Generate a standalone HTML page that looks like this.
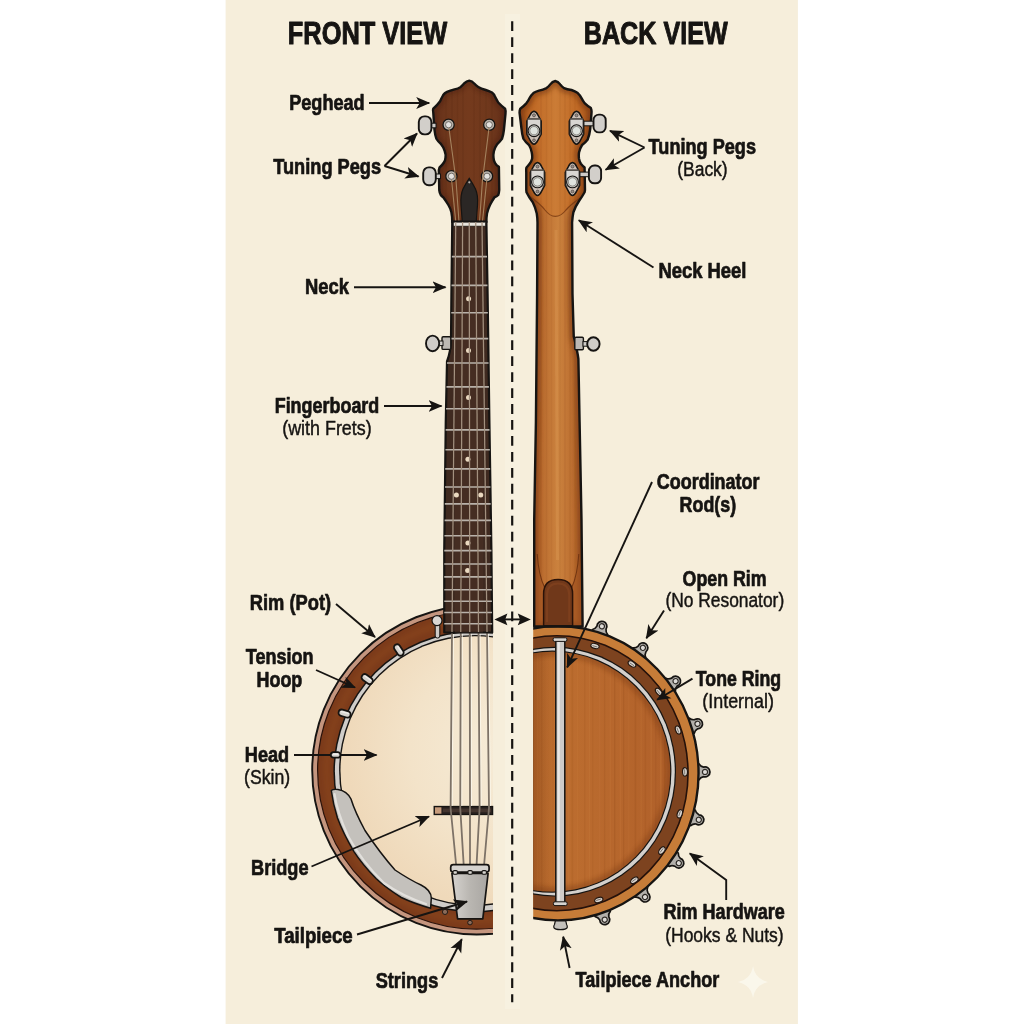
<!DOCTYPE html>
<html lang="en">
<head>
<meta charset="utf-8">
<title>Banjo anatomy - front and back view</title>
<style>
html,body{margin:0;padding:0;background:#ffffff;}
body{width:1024px;height:1024px;overflow:hidden;}
svg{display:block;}
svg text{font-family:"Liberation Sans",sans-serif;}
</style>
</head>
<body>
<svg width="1024" height="1024" viewBox="0 0 1024 1024">
<defs>
<linearGradient id="gFrontHead" x1="0" x2="1" y1="0" y2="0">
 <stop offset="0" stop-color="#66311a"/><stop offset="0.25" stop-color="#70381c"/><stop offset="0.5" stop-color="#743a1d"/><stop offset="0.75" stop-color="#70381c"/><stop offset="1" stop-color="#66311a"/>
</linearGradient>
<linearGradient id="gBackWood" x1="0" x2="1" y1="0" y2="0">
 <stop offset="0" stop-color="#a3531c"/><stop offset="0.2" stop-color="#c06a26"/><stop offset="0.5" stop-color="#cb7c36"/><stop offset="0.8" stop-color="#c06a26"/><stop offset="1" stop-color="#a3531c"/>
</linearGradient>
<linearGradient id="gBackNeck" x1="0" x2="1" y1="0" y2="0">
 <stop offset="0" stop-color="#8c4418"/><stop offset="0.18" stop-color="#b5652a"/><stop offset="0.5" stop-color="#cb823e"/><stop offset="0.82" stop-color="#b5652a"/><stop offset="1" stop-color="#8c4418"/>
</linearGradient>
<linearGradient id="gBackPot" x1="0" x2="1" y1="0" y2="0">
 <stop offset="0" stop-color="#b4642a"/><stop offset="0.5" stop-color="#be6f30"/><stop offset="1" stop-color="#b0602a"/>
</linearGradient>
<radialGradient id="gSkin" cx="0.62" cy="0.42" r="0.6">
 <stop offset="0" stop-color="#f6ecd8"/><stop offset="0.6" stop-color="#f3e3c9"/><stop offset="1" stop-color="#efd9ba"/>
</radialGradient>
<linearGradient id="gSilver" x1="0" x2="0" y1="0" y2="1">
 <stop offset="0" stop-color="#dcd9d4"/><stop offset="1" stop-color="#b4b0ab"/>
</linearGradient>
<linearGradient id="gTail" x1="0" x2="1" y1="0" y2="0">
 <stop offset="0" stop-color="#d6d3cf"/><stop offset="0.5" stop-color="#b9b6b1"/><stop offset="1" stop-color="#a9a6a2"/>
</linearGradient>
<filter id="blur2" x="-20%" y="-20%" width="140%" height="140%"><feGaussianBlur stdDeviation="2.2"/></filter>
<linearGradient id="gLeftShade" x1="0" x2="1" y1="0" y2="0"><stop offset="0" stop-color="#7a3a12" stop-opacity="0.42"/><stop offset="1" stop-color="#7a3a12" stop-opacity="0"/></linearGradient>
<clipPath id="clipFront"><rect x="226" y="560" width="267" height="400"/></clipPath>
<clipPath id="clipBack"><rect x="533.2" y="560" width="270" height="400"/></clipPath>
<marker id="ah" markerUnits="userSpaceOnUse" markerWidth="16" markerHeight="14" refX="13" refY="7" orient="auto">
 <path d="M0,1 L14,7 L0,13 L3.5,7 Z" fill="#161412"/>
</marker>
</defs>
<rect x="0" y="0" width="1024" height="1024" fill="#ffffff"/>
<rect x="225.6" y="0" width="572.3" height="1024" fill="#f6eedb"/>
<rect x="505" y="14" width="15" height="995" fill="#f7f1e0"/>
<line x1="512.2" y1="21.3" x2="512.2" y2="1002.3" stroke="#161412" stroke-width="2.2" stroke-dasharray="9.8 6.15"/>
<g clip-path="url(#clipFront)">
<circle cx="476.6" cy="770.1" r="164.4" fill="#c4957e" stroke="#161412" stroke-width="1.9"/>
<circle cx="476.6" cy="770.1" r="159.0" fill="#7c3b1b" stroke="#2a120a" stroke-width="1.2"/>
<circle cx="476.6" cy="770.1" r="150" fill="none" stroke="#96501f" stroke-width="7" opacity="0.3" filter="url(#blur2)"/>
<circle cx="474.2" cy="771.6" r="140.8" fill="#161412"/>
<circle cx="474.2" cy="771.6" r="139.3" fill="#d0cdc9"/>
<circle cx="474.6" cy="770.4" r="135.5" fill="#161412"/>
<circle cx="474.6" cy="770.4" r="134.1" fill="url(#gSkin)"/>
</g>
<g transform="translate(398.8,650.0) rotate(56)"><rect x="-6.2" y="-3.2" width="12.4" height="6.4" rx="3.2" fill="#d6d3ce" stroke="#161412" stroke-width="1.8"/><rect x="-4.2" y="-1.8" width="8.4" height="1.3" rx="0.6" fill="#f0eeeb"/></g>
<g transform="translate(367.2,679.1) rotate(36)"><rect x="-6.2" y="-3.2" width="12.4" height="6.4" rx="3.2" fill="#d6d3ce" stroke="#161412" stroke-width="1.8"/><rect x="-4.2" y="-1.8" width="8.4" height="1.3" rx="0.6" fill="#f0eeeb"/></g>
<g transform="translate(344.6,713.6) rotate(16)"><rect x="-6.2" y="-3.2" width="12.4" height="6.4" rx="3.2" fill="#d6d3ce" stroke="#161412" stroke-width="1.8"/><rect x="-4.2" y="-1.8" width="8.4" height="1.3" rx="0.6" fill="#f0eeeb"/></g>
<path d="M331.3,790.5 Q333,789 338,789.5 Q347,791 351,799 Q355,812 365,830.5 Q380,853 395,870 Q410,880 421,885 Q431,890 431.3,898 L430.6,908.2 Q414,903.5 401.3,897.5 Q386,888 376.3,878.8 Q362,864 353.8,851.3 Q343,833 337.5,818 Q333,804 331.3,790.5 Z" fill="#c4c1bc" stroke="#161412" stroke-width="1.5" stroke-linejoin="round"/>
<path d="M334.5,794 Q337,812 348,836 Q362,862 384,883 Q402,896 426,904" fill="none" stroke="#e2e0dc" stroke-width="2.2" stroke-linecap="round"/>
<rect x="435.2" y="624" width="4.6" height="14" rx="2" fill="#cfccc8" stroke="#161412" stroke-width="1"/>
<circle cx="437" cy="620.6" r="5" fill="#d9d6d2" stroke="#161412" stroke-width="1.2"/>
<rect x="434.2" y="806.5" width="58.4" height="8" fill="#2a2220" stroke="#161412" stroke-width="1.3"/>
<rect x="435" y="807.3" width="6.4" height="6.4" fill="#c79c7c"/>
<rect x="443" y="808.6" width="48" height="3.6" fill="#4a3a32" opacity="0.8"/>
<polyline points="453.5,634 452.1,806" fill="none" stroke="#fbf7ec" stroke-width="1.1" opacity="0.8"/>
<polyline points="452.0,630 450.6,808 456.25,866" fill="none" stroke="#7d7267" stroke-width="1.8"/>
<polyline points="462.25,634 461.75,806" fill="none" stroke="#fbf7ec" stroke-width="1.1" opacity="0.8"/>
<polyline points="460.75,630 460.25,808 463.75,866" fill="none" stroke="#7d7267" stroke-width="1.8"/>
<polyline points="471.25,634 471.5,806" fill="none" stroke="#fbf7ec" stroke-width="1.1" opacity="0.8"/>
<polyline points="469.75,630 470.0,808 470.0,866" fill="none" stroke="#7d7267" stroke-width="1.8"/>
<polyline points="480.0,634 481.1,806" fill="none" stroke="#fbf7ec" stroke-width="1.1" opacity="0.8"/>
<polyline points="478.5,630 479.6,808 476.5,866" fill="none" stroke="#7d7267" stroke-width="1.8"/>
<polyline points="488.5,634 490.5,806" fill="none" stroke="#fbf7ec" stroke-width="1.1" opacity="0.8"/>
<polyline points="487.0,630 489.0,808 484.0,866" fill="none" stroke="#7d7267" stroke-width="1.8"/>
<clipPath id="clipPH"><path d="M469.25,80.6 Q466.5,81 464.5,83.1 Q462.5,85.5 460.75,86.9 Q458,88.6 454.5,89.4 Q450,90.6 447,91.9 Q444.5,93 443.25,95 Q441.5,98 440.1,101.25 Q437,105.5 433.25,108.75 Q432.6,110.5 433.25,112.5 L434.5,130 Q435,135 436.4,138.75 Q438,141.5 440.75,143.75 Q443.5,147 444.75,151.25 Q446,154.5 445.5,157.5 Q445.3,160.5 443.9,162.5 Q442,165.5 439.5,167.5 Q438.7,169.5 438.9,172.5 L439.25,190 Q439.6,193 440.75,195 Q441.8,196.5 443.25,197.25 Q446,201 448.25,204.75 Q450.5,208.5 451.4,212.25 Q452.2,216 452.25,222 L486.4,222 Q486.4,217 487,213.5 Q488,209 490.1,204.75 Q492,201 494.5,197.25 Q496.8,196.5 498.25,195 Q499,193 499.25,190 L498.9,166.9 Q496.5,165.5 495.1,163.1 Q493.6,160.5 493.5,157.5 Q493.2,154.5 493.9,151.25 Q495,147 497,144.4 Q500,141.5 502,138.75 Q503.3,135 503.9,130 L505.5,113.75 Q505.8,110.5 505.1,108.75 Q501,105.5 498.25,102.5 Q496.5,99.5 495.1,96.9 Q494,94 492,92.5 Q489,91 485.75,90 Q481,88.6 478.25,86.9 Q476,85.5 474.5,83.75 Q472,81 469.25,80.6 Z"/></clipPath>
<path d="M469.25,80.6 Q466.5,81 464.5,83.1 Q462.5,85.5 460.75,86.9 Q458,88.6 454.5,89.4 Q450,90.6 447,91.9 Q444.5,93 443.25,95 Q441.5,98 440.1,101.25 Q437,105.5 433.25,108.75 Q432.6,110.5 433.25,112.5 L434.5,130 Q435,135 436.4,138.75 Q438,141.5 440.75,143.75 Q443.5,147 444.75,151.25 Q446,154.5 445.5,157.5 Q445.3,160.5 443.9,162.5 Q442,165.5 439.5,167.5 Q438.7,169.5 438.9,172.5 L439.25,190 Q439.6,193 440.75,195 Q441.8,196.5 443.25,197.25 Q446,201 448.25,204.75 Q450.5,208.5 451.4,212.25 Q452.2,216 452.25,222 L486.4,222 Q486.4,217 487,213.5 Q488,209 490.1,204.75 Q492,201 494.5,197.25 Q496.8,196.5 498.25,195 Q499,193 499.25,190 L498.9,166.9 Q496.5,165.5 495.1,163.1 Q493.6,160.5 493.5,157.5 Q493.2,154.5 493.9,151.25 Q495,147 497,144.4 Q500,141.5 502,138.75 Q503.3,135 503.9,130 L505.5,113.75 Q505.8,110.5 505.1,108.75 Q501,105.5 498.25,102.5 Q496.5,99.5 495.1,96.9 Q494,94 492,92.5 Q489,91 485.75,90 Q481,88.6 478.25,86.9 Q476,85.5 474.5,83.75 Q472,81 469.25,80.6 Z" fill="url(#gFrontHead)"/>
<g clip-path="url(#clipPH)">
<line x1="446" y1="88" x2="446" y2="222" stroke="#3a1608" stroke-width="1.2" opacity="0.09"/>
<line x1="452" y1="88" x2="452" y2="222" stroke="#3a1608" stroke-width="1.2" opacity="0.1"/>
<line x1="457.5" y1="88" x2="457.5" y2="222" stroke="#3a1608" stroke-width="1.2" opacity="0.08"/>
<line x1="463" y1="88" x2="463" y2="222" stroke="#3a1608" stroke-width="1.2" opacity="0.1"/>
<line x1="474" y1="88" x2="474" y2="222" stroke="#3a1608" stroke-width="1.2" opacity="0.09"/>
<line x1="480" y1="88" x2="480" y2="222" stroke="#3a1608" stroke-width="1.2" opacity="0.1"/>
<line x1="486" y1="88" x2="486" y2="222" stroke="#3a1608" stroke-width="1.2" opacity="0.08"/>
<line x1="492" y1="88" x2="492" y2="222" stroke="#3a1608" stroke-width="1.2" opacity="0.09"/>
<path d="M469.25,80.6 Q466.5,81 464.5,83.1 Q462.5,85.5 460.75,86.9 Q458,88.6 454.5,89.4 Q450,90.6 447,91.9 Q444.5,93 443.25,95 Q441.5,98 440.1,101.25 Q437,105.5 433.25,108.75 Q432.6,110.5 433.25,112.5 L434.5,130 Q435,135 436.4,138.75 Q438,141.5 440.75,143.75 Q443.5,147 444.75,151.25 Q446,154.5 445.5,157.5 Q445.3,160.5 443.9,162.5 Q442,165.5 439.5,167.5 Q438.7,169.5 438.9,172.5 L439.25,190 Q439.6,193 440.75,195 Q441.8,196.5 443.25,197.25 Q446,201 448.25,204.75 Q450.5,208.5 451.4,212.25 Q452.2,216 452.25,222 L486.4,222 Q486.4,217 487,213.5 Q488,209 490.1,204.75 Q492,201 494.5,197.25 Q496.8,196.5 498.25,195 Q499,193 499.25,190 L498.9,166.9 Q496.5,165.5 495.1,163.1 Q493.6,160.5 493.5,157.5 Q493.2,154.5 493.9,151.25 Q495,147 497,144.4 Q500,141.5 502,138.75 Q503.3,135 503.9,130 L505.5,113.75 Q505.8,110.5 505.1,108.75 Q501,105.5 498.25,102.5 Q496.5,99.5 495.1,96.9 Q494,94 492,92.5 Q489,91 485.75,90 Q481,88.6 478.25,86.9 Q476,85.5 474.5,83.75 Q472,81 469.25,80.6 Z" fill="none" stroke="#3a1608" stroke-width="7" opacity="0.34" filter="url(#blur2)"/>
</g>
<path d="M469.25,80.6 Q466.5,81 464.5,83.1 Q462.5,85.5 460.75,86.9 Q458,88.6 454.5,89.4 Q450,90.6 447,91.9 Q444.5,93 443.25,95 Q441.5,98 440.1,101.25 Q437,105.5 433.25,108.75 Q432.6,110.5 433.25,112.5 L434.5,130 Q435,135 436.4,138.75 Q438,141.5 440.75,143.75 Q443.5,147 444.75,151.25 Q446,154.5 445.5,157.5 Q445.3,160.5 443.9,162.5 Q442,165.5 439.5,167.5 Q438.7,169.5 438.9,172.5 L439.25,190 Q439.6,193 440.75,195 Q441.8,196.5 443.25,197.25 Q446,201 448.25,204.75 Q450.5,208.5 451.4,212.25 Q452.2,216 452.25,222 L486.4,222 Q486.4,217 487,213.5 Q488,209 490.1,204.75 Q492,201 494.5,197.25 Q496.8,196.5 498.25,195 Q499,193 499.25,190 L498.9,166.9 Q496.5,165.5 495.1,163.1 Q493.6,160.5 493.5,157.5 Q493.2,154.5 493.9,151.25 Q495,147 497,144.4 Q500,141.5 502,138.75 Q503.3,135 503.9,130 L505.5,113.75 Q505.8,110.5 505.1,108.75 Q501,105.5 498.25,102.5 Q496.5,99.5 495.1,96.9 Q494,94 492,92.5 Q489,91 485.75,90 Q481,88.6 478.25,86.9 Q476,85.5 474.5,83.75 Q472,81 469.25,80.6 Z" fill="none" stroke="#161412" stroke-width="2.4" stroke-linejoin="round"/>
<rect x="430" y="123.2" width="6" height="4.6" fill="#cfccc8" stroke="#161412" stroke-width="1"/>
<rect x="418.8" y="116.4" width="12.6" height="18" rx="5.6" fill="#d2cfca" stroke="#161412" stroke-width="1.9"/>
<rect x="434.5" y="174" width="6" height="4.6" fill="#cfccc8" stroke="#161412" stroke-width="1"/>
<rect x="423.2" y="167.4" width="12.6" height="17.8" rx="5.6" fill="#d2cfca" stroke="#161412" stroke-width="1.9"/>
<path d="M469.25,178.3 Q466,183 463,189 Q460.3,195 461,205 L462.3,222 L476.2,222 L477.5,205 Q478.2,195 475.5,189 Q472.5,183 469.25,178.3 Z" fill="#2b2725" stroke="#161412" stroke-width="1.2"/>
<circle cx="469.3" cy="182.3" r="1.1" fill="#b8b4ae"/>
<circle cx="448.6" cy="124.75" r="5.6" fill="#b9b4ad" stroke="#161412" stroke-width="1.3"/>
<circle cx="448.6" cy="124.75" r="3.1" fill="#e4e2df" stroke="#5a554f" stroke-width="0.8"/>
<circle cx="489.25" cy="124.75" r="5.6" fill="#b9b4ad" stroke="#161412" stroke-width="1.3"/>
<circle cx="489.25" cy="124.75" r="3.1" fill="#e4e2df" stroke="#5a554f" stroke-width="0.8"/>
<circle cx="451.4" cy="176.25" r="5.6" fill="#b9b4ad" stroke="#161412" stroke-width="1.3"/>
<circle cx="451.4" cy="176.25" r="3.1" fill="#e4e2df" stroke="#5a554f" stroke-width="0.8"/>
<circle cx="487.0" cy="176.25" r="5.6" fill="#b9b4ad" stroke="#161412" stroke-width="1.3"/>
<circle cx="487.0" cy="176.25" r="3.1" fill="#e4e2df" stroke="#5a554f" stroke-width="0.8"/>
<polyline points="448.9,128 456,180 459,222" fill="none" stroke="#a5825e" stroke-width="1.1"/>
<polyline points="451.6,180 455.8,222" fill="none" stroke="#a5825e" stroke-width="1.1"/>
<polyline points="489,128 482.5,180 479.5,222" fill="none" stroke="#a5825e" stroke-width="1.1"/>
<polyline points="486.8,180 482.4,222" fill="none" stroke="#a5825e" stroke-width="1.1"/>
<path d="M452.25,221.5 L451.4,294 L451,340 Q450.6,352 447,361.5 L445.75,422 L444.25,550 L444.25,632.5 L492.2,632.5 L491.4,550 L489.4,422 L487.6,294 L486.4,221.5 Z" fill="#3f2a20" stroke="#161412" stroke-width="2.2" stroke-linejoin="round"/>
<clipPath id="clipFB"><path d="M452.25,221.5 L451.4,294 L451,340 Q450.6,352 447,361.5 L445.75,422 L444.25,550 L444.25,632.5 L492.2,632.5 L491.4,550 L489.4,422 L487.6,294 L486.4,221.5 Z"/></clipPath>
<g clip-path="url(#clipFB)">
<rect x="455" y="222" width="28" height="412" fill="#4a3024" opacity="0.55"/>
<line x1="440" y1="256.6" x2="496" y2="256.6" stroke="#b9b2aa" stroke-width="1.7"/>
<line x1="440" y1="285.4" x2="496" y2="285.4" stroke="#b9b2aa" stroke-width="1.7"/>
<line x1="440" y1="312.75" x2="496" y2="312.75" stroke="#b9b2aa" stroke-width="1.7"/>
<line x1="440" y1="338.6" x2="496" y2="338.6" stroke="#b9b2aa" stroke-width="1.7"/>
<line x1="440" y1="363" x2="496" y2="363" stroke="#b9b2aa" stroke-width="1.7"/>
<line x1="440" y1="386.9" x2="496" y2="386.9" stroke="#b9b2aa" stroke-width="1.7"/>
<line x1="440" y1="408.75" x2="496" y2="408.75" stroke="#b9b2aa" stroke-width="1.7"/>
<line x1="440" y1="429.9" x2="496" y2="429.9" stroke="#b9b2aa" stroke-width="1.7"/>
<line x1="440" y1="449.75" x2="496" y2="449.75" stroke="#b9b2aa" stroke-width="1.7"/>
<line x1="440" y1="468.9" x2="496" y2="468.9" stroke="#b9b2aa" stroke-width="1.7"/>
<line x1="440" y1="487" x2="496" y2="487" stroke="#b9b2aa" stroke-width="1.7"/>
<line x1="440" y1="503.9" x2="496" y2="503.9" stroke="#b9b2aa" stroke-width="1.7"/>
<line x1="440" y1="520.4" x2="496" y2="520.4" stroke="#b9b2aa" stroke-width="1.7"/>
<line x1="440" y1="535.75" x2="496" y2="535.75" stroke="#b9b2aa" stroke-width="1.7"/>
<line x1="440" y1="550.6" x2="496" y2="550.6" stroke="#b9b2aa" stroke-width="1.7"/>
<line x1="440" y1="564" x2="496" y2="564" stroke="#b9b2aa" stroke-width="1.7"/>
<line x1="440" y1="576.9" x2="496" y2="576.9" stroke="#b9b2aa" stroke-width="1.7"/>
<line x1="440" y1="589.75" x2="496" y2="589.75" stroke="#b9b2aa" stroke-width="1.7"/>
<line x1="440" y1="601.25" x2="496" y2="601.25" stroke="#b9b2aa" stroke-width="1.7"/>
<line x1="440" y1="612.5" x2="496" y2="612.5" stroke="#b9b2aa" stroke-width="1.7"/>
<line x1="440" y1="623.75" x2="496" y2="623.75" stroke="#b9b2aa" stroke-width="1.7"/>
</g>
<rect x="453.4" y="222.2" width="32" height="3.9" fill="#e9e5dd" stroke="#161412" stroke-width="0.6"/>
<circle cx="468.6" cy="298.75" r="2.5" fill="#ead9c0"/>
<circle cx="468.5" cy="350.5" r="2.5" fill="#ead9c0"/>
<circle cx="468.5" cy="397.5" r="2.5" fill="#ead9c0"/>
<circle cx="467.9" cy="459.25" r="2.5" fill="#ead9c0"/>
<circle cx="456.4" cy="495.1" r="2.5" fill="#ead9c0"/>
<circle cx="480.75" cy="495.1" r="2.5" fill="#ead9c0"/>
<circle cx="467.9" cy="543" r="2.5" fill="#ead9c0"/>
<circle cx="467.6" cy="570.6" r="2.5" fill="#ead9c0"/>
<line x1="455.75" y1="222" x2="452.0" y2="632" stroke="#a3917f" stroke-width="1.25"/>
<line x1="462.6" y1="222" x2="460.75" y2="632" stroke="#a3917f" stroke-width="1.25"/>
<line x1="469.25" y1="222" x2="469.75" y2="632" stroke="#a3917f" stroke-width="1.25"/>
<line x1="475.75" y1="222" x2="478.5" y2="632" stroke="#a3917f" stroke-width="1.25"/>
<line x1="482.0" y1="222" x2="487.0" y2="632" stroke="#a3917f" stroke-width="1.25"/>
<rect x="442" y="336.8" width="8.8" height="12.6" rx="1.2" fill="#bdb9b4" stroke="#161412" stroke-width="1.4"/>
<rect x="438" y="341" width="5" height="4.6" fill="#cfccc8" stroke="#161412" stroke-width="1"/>
<ellipse cx="432.6" cy="343.4" rx="6.6" ry="7.8" fill="#cfccc8" stroke="#161412" stroke-width="1.9"/>
<path d="M451.9,873.5 L488.1,873.5 L482.8,918.8 L457.6,918.8 Z" fill="url(#gTail)" stroke="#161412" stroke-width="1.7" stroke-linejoin="round"/>
<rect x="450.7" y="864.6" width="38.4" height="7.6" rx="2.6" fill="#d6d3cf" stroke="#161412" stroke-width="1.7"/>
<rect x="453.0" y="870.6" width="4.4" height="3.6" rx="1.2" fill="#d9d6d1" stroke="#161412" stroke-width="1.1"/>
<rect x="467.90000000000003" y="870.6" width="4.4" height="3.6" rx="1.2" fill="#d9d6d1" stroke="#161412" stroke-width="1.1"/>
<rect x="482.0" y="870.6" width="4.4" height="3.6" rx="1.2" fill="#d9d6d1" stroke="#161412" stroke-width="1.1"/>
<circle cx="445" cy="911.9" r="2.6" fill="#8a6a58" stroke="#161412" stroke-width="0.9"/>
<circle cx="470" cy="922.6" r="2.3" fill="#8a6a58" stroke="#161412" stroke-width="0.9"/>
<g transform="translate(601.9,626.3) rotate(18)"><path d="M-8.4,9 L-8,6 Q-5.4,4.6 -4.8,1.4 A5,5 0 1 1 4.8,1.4 Q5.4,4.6 8,6 L8.4,9 Z" fill="#b3b0ab" stroke="#161412" stroke-width="1.7" stroke-linejoin="round"/><circle cx="0" cy="0" r="2.6" fill="#dedbd7" stroke="#2c2824" stroke-width="1.2"/></g>
<g transform="translate(642.9,647.8) rotate(37)"><path d="M-8.4,9 L-8,6 Q-5.4,4.6 -4.8,1.4 A5,5 0 1 1 4.8,1.4 Q5.4,4.6 8,6 L8.4,9 Z" fill="#b3b0ab" stroke="#161412" stroke-width="1.7" stroke-linejoin="round"/><circle cx="0" cy="0" r="2.6" fill="#dedbd7" stroke="#2c2824" stroke-width="1.2"/></g>
<g transform="translate(675.6,681.2) rotate(54)"><path d="M-8.4,9 L-8,6 Q-5.4,4.6 -4.8,1.4 A5,5 0 1 1 4.8,1.4 Q5.4,4.6 8,6 L8.4,9 Z" fill="#b3b0ab" stroke="#161412" stroke-width="1.7" stroke-linejoin="round"/><circle cx="0" cy="0" r="2.6" fill="#dedbd7" stroke="#2c2824" stroke-width="1.2"/></g>
<g transform="translate(697.5,723.8) rotate(72)"><path d="M-8.4,9 L-8,6 Q-5.4,4.6 -4.8,1.4 A5,5 0 1 1 4.8,1.4 Q5.4,4.6 8,6 L8.4,9 Z" fill="#b3b0ab" stroke="#161412" stroke-width="1.7" stroke-linejoin="round"/><circle cx="0" cy="0" r="2.6" fill="#dedbd7" stroke="#2c2824" stroke-width="1.2"/></g>
<g transform="translate(705.0,771.9) rotate(90)"><path d="M-8.4,9 L-8,6 Q-5.4,4.6 -4.8,1.4 A5,5 0 1 1 4.8,1.4 Q5.4,4.6 8,6 L8.4,9 Z" fill="#b3b0ab" stroke="#161412" stroke-width="1.7" stroke-linejoin="round"/><circle cx="0" cy="0" r="2.6" fill="#dedbd7" stroke="#2c2824" stroke-width="1.2"/></g>
<g transform="translate(698.8,819.8) rotate(107)"><path d="M-8.4,9 L-8,6 Q-5.4,4.6 -4.8,1.4 A5,5 0 1 1 4.8,1.4 Q5.4,4.6 8,6 L8.4,9 Z" fill="#b3b0ab" stroke="#161412" stroke-width="1.7" stroke-linejoin="round"/><circle cx="0" cy="0" r="2.6" fill="#dedbd7" stroke="#2c2824" stroke-width="1.2"/></g>
<g transform="translate(678.8,863.1) rotate(124)"><path d="M-8.4,9 L-8,6 Q-5.4,4.6 -4.8,1.4 A5,5 0 1 1 4.8,1.4 Q5.4,4.6 8,6 L8.4,9 Z" fill="#b3b0ab" stroke="#161412" stroke-width="1.7" stroke-linejoin="round"/><circle cx="0" cy="0" r="2.6" fill="#dedbd7" stroke="#2c2824" stroke-width="1.2"/></g>
<g transform="translate(645.0,897.0) rotate(142)"><path d="M-8.4,9 L-8,6 Q-5.4,4.6 -4.8,1.4 A5,5 0 1 1 4.8,1.4 Q5.4,4.6 8,6 L8.4,9 Z" fill="#b3b0ab" stroke="#161412" stroke-width="1.7" stroke-linejoin="round"/><circle cx="0" cy="0" r="2.6" fill="#dedbd7" stroke="#2c2824" stroke-width="1.2"/></g>
<g transform="translate(604.7,919.7) rotate(161)"><path d="M-8.4,9 L-8,6 Q-5.4,4.6 -4.8,1.4 A5,5 0 1 1 4.8,1.4 Q5.4,4.6 8,6 L8.4,9 Z" fill="#b3b0ab" stroke="#161412" stroke-width="1.7" stroke-linejoin="round"/><circle cx="0" cy="0" r="2.6" fill="#dedbd7" stroke="#2c2824" stroke-width="1.2"/></g>
<g clip-path="url(#clipBack)">
<ellipse cx="557.96" cy="773.25" rx="140.6" ry="147.1" fill="#c67c38" stroke="#161412" stroke-width="2.4"/>
<ellipse cx="556.84" cy="773.18" rx="131.2" ry="137.5" fill="#7d431f" stroke="#25110a" stroke-width="1.6"/>
<ellipse cx="554.8" cy="771.7" rx="121.2" ry="124.9" fill="#161412"/>
<ellipse cx="554.8" cy="771.7" rx="120.0" ry="123.7" fill="#d3d0cc"/>
<ellipse cx="552.2" cy="771.7" rx="119.2" ry="121.1" fill="#161412"/>
<ellipse cx="552.2" cy="771.7" rx="118.0" ry="119.9" fill="url(#gBackPot)"/>
<clipPath id="clipInner"><ellipse cx="552.2" cy="771.7" rx="118.0" ry="119.9"/></clipPath><g clip-path="url(#clipInner)">
<line x1="537.5" y1="652" x2="537.5" y2="894" stroke="#d58a46" stroke-width="1.0" opacity="0.18"/>
<line x1="541.8" y1="652" x2="541.8" y2="894" stroke="#8a4516" stroke-width="1.3" opacity="0.14"/>
<line x1="546.9" y1="652" x2="546.9" y2="894" stroke="#d58a46" stroke-width="1.3" opacity="0.10"/>
<line x1="553.1" y1="652" x2="553.1" y2="894" stroke="#8a4516" stroke-width="0.9" opacity="0.11"/>
<line x1="558.2" y1="652" x2="558.2" y2="894" stroke="#d58a46" stroke-width="1.6" opacity="0.11"/>
<line x1="562.7" y1="652" x2="562.7" y2="894" stroke="#8a4516" stroke-width="1.4" opacity="0.21"/>
<line x1="568.8" y1="652" x2="568.8" y2="894" stroke="#d58a46" stroke-width="1.2" opacity="0.22"/>
<line x1="572.3" y1="652" x2="572.3" y2="894" stroke="#8a4516" stroke-width="1.7" opacity="0.13"/>
<line x1="577.7" y1="652" x2="577.7" y2="894" stroke="#d58a46" stroke-width="0.9" opacity="0.14"/>
<line x1="584.8" y1="652" x2="584.8" y2="894" stroke="#8a4516" stroke-width="1.0" opacity="0.17"/>
<line x1="589.4" y1="652" x2="589.4" y2="894" stroke="#d58a46" stroke-width="1.2" opacity="0.17"/>
<line x1="592.8" y1="652" x2="592.8" y2="894" stroke="#8a4516" stroke-width="0.9" opacity="0.12"/>
<line x1="599.7" y1="652" x2="599.7" y2="894" stroke="#d58a46" stroke-width="1.2" opacity="0.14"/>
<line x1="604.6" y1="652" x2="604.6" y2="894" stroke="#8a4516" stroke-width="1.3" opacity="0.14"/>
<line x1="610.3" y1="652" x2="610.3" y2="894" stroke="#d58a46" stroke-width="1.5" opacity="0.13"/>
<line x1="614.7" y1="652" x2="614.7" y2="894" stroke="#8a4516" stroke-width="1.3" opacity="0.21"/>
<line x1="620.3" y1="652" x2="620.3" y2="894" stroke="#d58a46" stroke-width="1.1" opacity="0.22"/>
<line x1="623.6" y1="652" x2="623.6" y2="894" stroke="#8a4516" stroke-width="1.2" opacity="0.19"/>
<line x1="628.8" y1="652" x2="628.8" y2="894" stroke="#d58a46" stroke-width="1.3" opacity="0.10"/>
<line x1="635.4" y1="652" x2="635.4" y2="894" stroke="#8a4516" stroke-width="1.6" opacity="0.17"/>
<line x1="641.1" y1="652" x2="641.1" y2="894" stroke="#d58a46" stroke-width="1.1" opacity="0.18"/>
<line x1="645.4" y1="652" x2="645.4" y2="894" stroke="#8a4516" stroke-width="1.4" opacity="0.15"/>
<line x1="651.2" y1="652" x2="651.2" y2="894" stroke="#d58a46" stroke-width="1.7" opacity="0.16"/>
<line x1="655.8" y1="652" x2="655.8" y2="894" stroke="#8a4516" stroke-width="0.9" opacity="0.18"/>
<line x1="660.8" y1="652" x2="660.8" y2="894" stroke="#d58a46" stroke-width="1.8" opacity="0.20"/>
<line x1="664.9" y1="652" x2="664.9" y2="894" stroke="#8a4516" stroke-width="1.2" opacity="0.18"/>
<rect x="533" y="650" width="22" height="246" fill="url(#gLeftShade)"/>
<ellipse cx="552.2" cy="771.7" rx="118.0" ry="119.9" fill="none" stroke="#6a2e0c" stroke-width="9" opacity="0.32" filter="url(#blur2)"/>
</g>
</g>
<rect x="555.8" y="640" width="9" height="264" fill="#cfccc8" stroke="#161412" stroke-width="1.5"/>
<rect x="557.6" y="641" width="2.2" height="262" fill="#e9e7e4"/>
<rect x="553.1" y="637.8" width="13.8" height="3.6" rx="1.4" fill="#d6d3cf" stroke="#161412" stroke-width="1"/>
<rect x="553.4" y="901.8" width="13.8" height="3.8" rx="1.6" fill="#d6d3cf" stroke="#161412" stroke-width="1"/>
<path d="M555.3,921 L565.8,921 L566.6,924.5 Q567.6,926 567.2,927.6 Q566,929.6 560.5,929.6 Q555,929.6 553.9,927.6 Q553.4,926 554.5,924.5 Z" fill="#c4c1bb" stroke="#161412" stroke-width="1.2"/>
<g transform="translate(595.0,646.0) rotate(16)"><ellipse cx="0" cy="0" rx="4.3" ry="2.5" fill="#d8d5d0" stroke="#24170f" stroke-width="1.2"/><line x1="-2.6" y1="0.3" x2="2.6" y2="0.3" stroke="#6a625a" stroke-width="0.8"/></g>
<g transform="translate(632.0,664.0) rotate(34)"><ellipse cx="0" cy="0" rx="4.3" ry="2.5" fill="#d8d5d0" stroke="#24170f" stroke-width="1.2"/><line x1="-2.6" y1="0.3" x2="2.6" y2="0.3" stroke="#6a625a" stroke-width="0.8"/></g>
<g transform="translate(658.8,691.9) rotate(51)"><ellipse cx="0" cy="0" rx="4.3" ry="2.5" fill="#d8d5d0" stroke="#24170f" stroke-width="1.2"/><line x1="-2.6" y1="0.3" x2="2.6" y2="0.3" stroke="#6a625a" stroke-width="0.8"/></g>
<g transform="translate(678.1,730.0) rotate(70)"><ellipse cx="0" cy="0" rx="4.3" ry="2.5" fill="#d8d5d0" stroke="#24170f" stroke-width="1.2"/><line x1="-2.6" y1="0.3" x2="2.6" y2="0.3" stroke="#6a625a" stroke-width="0.8"/></g>
<g transform="translate(685.0,771.9) rotate(89)"><ellipse cx="0" cy="0" rx="4.3" ry="2.5" fill="#d8d5d0" stroke="#24170f" stroke-width="1.2"/><line x1="-2.6" y1="0.3" x2="2.6" y2="0.3" stroke="#6a625a" stroke-width="0.8"/></g>
<g transform="translate(679.8,813.8) rotate(108)"><ellipse cx="0" cy="0" rx="4.3" ry="2.5" fill="#d8d5d0" stroke="#24170f" stroke-width="1.2"/><line x1="-2.6" y1="0.3" x2="2.6" y2="0.3" stroke="#6a625a" stroke-width="0.8"/></g>
<g transform="translate(661.9,850.6) rotate(127)"><ellipse cx="0" cy="0" rx="4.3" ry="2.5" fill="#d8d5d0" stroke="#24170f" stroke-width="1.2"/><line x1="-2.6" y1="0.3" x2="2.6" y2="0.3" stroke="#6a625a" stroke-width="0.8"/></g>
<g transform="translate(634.4,880.3) rotate(144)"><ellipse cx="0" cy="0" rx="4.3" ry="2.5" fill="#d8d5d0" stroke="#24170f" stroke-width="1.2"/><line x1="-2.6" y1="0.3" x2="2.6" y2="0.3" stroke="#6a625a" stroke-width="0.8"/></g>
<g transform="translate(598.8,900.0) rotate(162)"><ellipse cx="0" cy="0" rx="4.3" ry="2.5" fill="#d8d5d0" stroke="#24170f" stroke-width="1.2"/><line x1="-2.6" y1="0.3" x2="2.6" y2="0.3" stroke="#6a625a" stroke-width="0.8"/></g>
<clipPath id="clipBN"><path d="M555.25,81 Q552.4,81.5 550.25,84.4 Q548.4,86.8 546.5,88.1 Q543,89.8 539,90.6 Q535.5,91.6 533.4,93.1 Q531,95.2 529.6,98.1 Q528.4,100.8 526.5,103.1 Q523.6,106.4 520.25,108.75 Q519.4,110.8 519.6,113.1 L521.5,128.75 Q522,134.5 523.4,138.75 Q525.6,142.4 529,145 Q531,148.4 531.75,152.5 Q532.4,155.8 532.1,158.75 Q531.4,161.6 529.6,163.75 Q528,165.8 526.5,167.5 Q526,169 526.25,172 L526.25,190 Q526.4,191.5 526.5,192.25 Q529,197.5 532.75,202.25 Q535.4,207.5 536.75,213.5 Q537.4,217.5 537.5,222.5 L537.1,294 L535.9,422 L534.2,520 L534.2,626.5 L582.6,626.5 L581.5,520 L579.6,422 L578.4,359 Q577.6,352 573.75,336.5 L572.5,294 L572.1,222.5 Q572.4,217 573.4,212.25 Q575.6,206 579,201 Q582.2,196.5 584.6,192.25 L585,190 L584.6,167.5 Q582.6,165.8 580.9,163.75 Q579.4,161.4 579,158.75 Q578.6,155.6 579,152.5 Q580,148.2 582.1,145 Q585.4,142.4 587.75,139.4 Q589.6,134.5 590.25,128.75 L591.5,113.1 Q591.8,110.2 590.9,108.1 Q587.4,105.8 584.6,103.1 Q582.8,100.6 581.5,98.1 Q580,95.2 577.75,93.1 Q575,91.2 571.5,90 Q567,89.4 564,88.1 Q562,86.6 560.25,84.4 Q558,81.4 555.25,81 Z"/></clipPath>
<path d="M555.25,81 Q552.4,81.5 550.25,84.4 Q548.4,86.8 546.5,88.1 Q543,89.8 539,90.6 Q535.5,91.6 533.4,93.1 Q531,95.2 529.6,98.1 Q528.4,100.8 526.5,103.1 Q523.6,106.4 520.25,108.75 Q519.4,110.8 519.6,113.1 L521.5,128.75 Q522,134.5 523.4,138.75 Q525.6,142.4 529,145 Q531,148.4 531.75,152.5 Q532.4,155.8 532.1,158.75 Q531.4,161.6 529.6,163.75 Q528,165.8 526.5,167.5 Q526,169 526.25,172 L526.25,190 Q526.4,191.5 526.5,192.25 Q529,197.5 532.75,202.25 Q535.4,207.5 536.75,213.5 Q537.4,217.5 537.5,222.5 L537.1,294 L535.9,422 L534.2,520 L534.2,626.5 L582.6,626.5 L581.5,520 L579.6,422 L578.4,359 Q577.6,352 573.75,336.5 L572.5,294 L572.1,222.5 Q572.4,217 573.4,212.25 Q575.6,206 579,201 Q582.2,196.5 584.6,192.25 L585,190 L584.6,167.5 Q582.6,165.8 580.9,163.75 Q579.4,161.4 579,158.75 Q578.6,155.6 579,152.5 Q580,148.2 582.1,145 Q585.4,142.4 587.75,139.4 Q589.6,134.5 590.25,128.75 L591.5,113.1 Q591.8,110.2 590.9,108.1 Q587.4,105.8 584.6,103.1 Q582.8,100.6 581.5,98.1 Q580,95.2 577.75,93.1 Q575,91.2 571.5,90 Q567,89.4 564,88.1 Q562,86.6 560.25,84.4 Q558,81.4 555.25,81 Z" fill="url(#gBackWood)"/>
<g clip-path="url(#clipBN)">
<path d="M528,195 Q541,204.5 545,210 Q550,216.4 555.25,216.4 Q561,216.4 566,210 Q570.5,204.5 583,196 L592,640 L524,640 Z" fill="url(#gBackNeck)"/>
<path d="M528,195 Q541,204.5 545,210 Q550,216.4 555.25,216.4 Q561,216.4 566,210 Q570.5,204.5 583,196" fill="none" stroke="#7d3d14" stroke-width="1.2" opacity="0.85"/>
<line x1="541" y1="90" x2="541" y2="625" stroke="#7a3a10" stroke-width="1.3" opacity="0.1"/>
<line x1="546.5" y1="90" x2="546.5" y2="625" stroke="#7a3a10" stroke-width="1.3" opacity="0.09"/>
<line x1="551.5" y1="90" x2="551.5" y2="625" stroke="#7a3a10" stroke-width="1.3" opacity="0.07"/>
<line x1="560" y1="90" x2="560" y2="625" stroke="#7a3a10" stroke-width="1.3" opacity="0.07"/>
<line x1="565" y1="90" x2="565" y2="625" stroke="#7a3a10" stroke-width="1.3" opacity="0.1"/>
<line x1="570" y1="90" x2="570" y2="625" stroke="#7a3a10" stroke-width="1.3" opacity="0.09"/>
<line x1="575" y1="90" x2="575" y2="625" stroke="#7a3a10" stroke-width="1.3" opacity="0.08"/>
<line x1="556" y1="230" x2="557.5" y2="560" stroke="#dc9a58" stroke-width="3" opacity="0.35"/>
<path d="M555.25,81 Q552.4,81.5 550.25,84.4 Q548.4,86.8 546.5,88.1 Q543,89.8 539,90.6 Q535.5,91.6 533.4,93.1 Q531,95.2 529.6,98.1 Q528.4,100.8 526.5,103.1 Q523.6,106.4 520.25,108.75 Q519.4,110.8 519.6,113.1 L521.5,128.75 Q522,134.5 523.4,138.75 Q525.6,142.4 529,145 Q531,148.4 531.75,152.5 Q532.4,155.8 532.1,158.75 Q531.4,161.6 529.6,163.75 Q528,165.8 526.5,167.5 Q526,169 526.25,172 L526.25,190 Q526.4,191.5 526.5,192.25 Q529,197.5 532.75,202.25 Q535.4,207.5 536.75,213.5 Q537.4,217.5 537.5,222.5 L537.1,294 L535.9,422 L534.2,520 L534.2,626.5 L582.6,626.5 L581.5,520 L579.6,422 L578.4,359 Q577.6,352 573.75,336.5 L572.5,294 L572.1,222.5 Q572.4,217 573.4,212.25 Q575.6,206 579,201 Q582.2,196.5 584.6,192.25 L585,190 L584.6,167.5 Q582.6,165.8 580.9,163.75 Q579.4,161.4 579,158.75 Q578.6,155.6 579,152.5 Q580,148.2 582.1,145 Q585.4,142.4 587.75,139.4 Q589.6,134.5 590.25,128.75 L591.5,113.1 Q591.8,110.2 590.9,108.1 Q587.4,105.8 584.6,103.1 Q582.8,100.6 581.5,98.1 Q580,95.2 577.75,93.1 Q575,91.2 571.5,90 Q567,89.4 564,88.1 Q562,86.6 560.25,84.4 Q558,81.4 555.25,81 Z" fill="none" stroke="#6a2e0c" stroke-width="9" opacity="0.5" filter="url(#blur2)"/>
<path d="M534,556 Q538.5,575 544.8,587 L543.6,626 L534,626 Z" fill="#a05220" opacity="0.55"/>
<path d="M582,556 Q577.5,575 571.6,587 L572.6,626 L583,626 Z" fill="#a05220" opacity="0.55"/>
<path d="M537.2,554 Q538.5,575 544.8,588" fill="none" stroke="#6e3210" stroke-width="1.1" opacity="0.9"/>
<path d="M578.8,554 Q577.5,575 571.6,588" fill="none" stroke="#6e3210" stroke-width="1.1" opacity="0.9"/>
</g>
<path d="M543.6,625.8 L543.6,594 Q543.6,579.4 558.1,579.4 Q572.6,579.4 572.6,594 L572.6,625.8 Z" fill="#70381a" stroke="#2a1208" stroke-width="1.5"/>
<path d="M547,622 L547,595 Q547,583.5 558.1,583.5 Q569.2,583.5 569.2,595 L569.2,622" fill="none" stroke="#85451f" stroke-width="2" opacity="0.6"/>
<path d="M555.25,81 Q552.4,81.5 550.25,84.4 Q548.4,86.8 546.5,88.1 Q543,89.8 539,90.6 Q535.5,91.6 533.4,93.1 Q531,95.2 529.6,98.1 Q528.4,100.8 526.5,103.1 Q523.6,106.4 520.25,108.75 Q519.4,110.8 519.6,113.1 L521.5,128.75 Q522,134.5 523.4,138.75 Q525.6,142.4 529,145 Q531,148.4 531.75,152.5 Q532.4,155.8 532.1,158.75 Q531.4,161.6 529.6,163.75 Q528,165.8 526.5,167.5 Q526,169 526.25,172 L526.25,190 Q526.4,191.5 526.5,192.25 Q529,197.5 532.75,202.25 Q535.4,207.5 536.75,213.5 Q537.4,217.5 537.5,222.5 L537.1,294 L535.9,422 L534.2,520 L534.2,626.5 L582.6,626.5 L581.5,520 L579.6,422 L578.4,359 Q577.6,352 573.75,336.5 L572.5,294 L572.1,222.5 Q572.4,217 573.4,212.25 Q575.6,206 579,201 Q582.2,196.5 584.6,192.25 L585,190 L584.6,167.5 Q582.6,165.8 580.9,163.75 Q579.4,161.4 579,158.75 Q578.6,155.6 579,152.5 Q580,148.2 582.1,145 Q585.4,142.4 587.75,139.4 Q589.6,134.5 590.25,128.75 L591.5,113.1 Q591.8,110.2 590.9,108.1 Q587.4,105.8 584.6,103.1 Q582.8,100.6 581.5,98.1 Q580,95.2 577.75,93.1 Q575,91.2 571.5,90 Q567,89.4 564,88.1 Q562,86.6 560.25,84.4 Q558,81.4 555.25,81 Z" fill="none" stroke="#161412" stroke-width="2.4" stroke-linejoin="round"/>
<rect x="582" y="121.2" width="12" height="4.6" fill="#cfccc8" stroke="#161412" stroke-width="1"/>
<rect x="593.5" y="114.6" width="12.2" height="17.8" rx="5.4" fill="#d2cfca" stroke="#161412" stroke-width="1.9"/>
<rect x="578" y="172.1" width="12" height="4.6" fill="#cfccc8" stroke="#161412" stroke-width="1"/>
<rect x="588.9" y="165.5" width="12.2" height="17.8" rx="5.4" fill="#d2cfca" stroke="#161412" stroke-width="1.9"/>
<path d="M534,111.30000000000001 Q536.4,111.7 538,115.2 L541.2,121.2 L541.2,134.1 L538,140.2 Q536,144.1 534,144.3 Q532,144.1 530,140.2 L526.8,134.1 L526.8,121.2 L530,115.2 Q531.6,111.7 534,111.30000000000001 Z" fill="#cbbfb6" stroke="#161412" stroke-width="1.5" stroke-linejoin="round"/>
<rect x="527.5" y="119.10000000000001" width="13" height="15.6" fill="#d9d6d2" stroke="#3a3632" stroke-width="0.8"/>
<line x1="527.6" y1="118.8" x2="540.4" y2="118.8" stroke="#55504a" stroke-width="1.3"/>
<circle cx="534" cy="130.7" r="5.9" fill="#c8c8c4" stroke="#161412" stroke-width="1.1"/>
<circle cx="534" cy="130.7" r="4.2" fill="#dfe3de" stroke="#6a6660" stroke-width="0.7"/>
<circle cx="534" cy="115.3" r="1.5" fill="#9a8f88" stroke="#3a3632" stroke-width="0.6"/>
<circle cx="534" cy="140.3" r="1.4" fill="#9a8f88" stroke="#3a3632" stroke-width="0.6"/>
<path d="M576.5,111.30000000000001 Q578.9,111.7 580.5,115.2 L583.7,121.2 L583.7,134.1 L580.5,140.2 Q578.5,144.1 576.5,144.3 Q574.5,144.1 572.5,140.2 L569.3,134.1 L569.3,121.2 L572.5,115.2 Q574.1,111.7 576.5,111.30000000000001 Z" fill="#cbbfb6" stroke="#161412" stroke-width="1.5" stroke-linejoin="round"/>
<rect x="570.0" y="119.10000000000001" width="13" height="15.6" fill="#d9d6d2" stroke="#3a3632" stroke-width="0.8"/>
<line x1="570.1" y1="118.8" x2="582.9" y2="118.8" stroke="#55504a" stroke-width="1.3"/>
<circle cx="576.5" cy="130.7" r="5.9" fill="#c8c8c4" stroke="#161412" stroke-width="1.1"/>
<circle cx="576.5" cy="130.7" r="4.2" fill="#dfe3de" stroke="#6a6660" stroke-width="0.7"/>
<circle cx="576.5" cy="115.3" r="1.5" fill="#9a8f88" stroke="#3a3632" stroke-width="0.6"/>
<circle cx="576.5" cy="140.3" r="1.4" fill="#9a8f88" stroke="#3a3632" stroke-width="0.6"/>
<path d="M537.5,162.5 Q539.9,162.9 541.5,166.4 L544.7,172.4 L544.7,185.3 L541.5,191.4 Q539.5,195.3 537.5,195.5 Q535.5,195.3 533.5,191.4 L530.3,185.3 L530.3,172.4 L533.5,166.4 Q535.1,162.9 537.5,162.5 Z" fill="#cbbfb6" stroke="#161412" stroke-width="1.5" stroke-linejoin="round"/>
<rect x="531.0" y="170.3" width="13" height="15.6" fill="#d9d6d2" stroke="#3a3632" stroke-width="0.8"/>
<line x1="531.1" y1="170.0" x2="543.9" y2="170.0" stroke="#55504a" stroke-width="1.3"/>
<circle cx="537.5" cy="181.9" r="5.9" fill="#c8c8c4" stroke="#161412" stroke-width="1.1"/>
<circle cx="537.5" cy="181.9" r="4.2" fill="#dfe3de" stroke="#6a6660" stroke-width="0.7"/>
<circle cx="537.5" cy="166.5" r="1.5" fill="#9a8f88" stroke="#3a3632" stroke-width="0.6"/>
<circle cx="537.5" cy="191.5" r="1.4" fill="#9a8f88" stroke="#3a3632" stroke-width="0.6"/>
<path d="M572.5,162.5 Q574.9,162.9 576.5,166.4 L579.7,172.4 L579.7,185.3 L576.5,191.4 Q574.5,195.3 572.5,195.5 Q570.5,195.3 568.5,191.4 L565.3,185.3 L565.3,172.4 L568.5,166.4 Q570.1,162.9 572.5,162.5 Z" fill="#cbbfb6" stroke="#161412" stroke-width="1.5" stroke-linejoin="round"/>
<rect x="566.0" y="170.3" width="13" height="15.6" fill="#d9d6d2" stroke="#3a3632" stroke-width="0.8"/>
<line x1="566.1" y1="170.0" x2="578.9" y2="170.0" stroke="#55504a" stroke-width="1.3"/>
<circle cx="572.5" cy="181.9" r="5.9" fill="#c8c8c4" stroke="#161412" stroke-width="1.1"/>
<circle cx="572.5" cy="181.9" r="4.2" fill="#dfe3de" stroke="#6a6660" stroke-width="0.7"/>
<circle cx="572.5" cy="166.5" r="1.5" fill="#9a8f88" stroke="#3a3632" stroke-width="0.6"/>
<circle cx="572.5" cy="191.5" r="1.4" fill="#9a8f88" stroke="#3a3632" stroke-width="0.6"/>
<rect x="574.8" y="337.2" width="8.6" height="12.6" rx="1.2" fill="#bdb9b4" stroke="#161412" stroke-width="1.4"/>
<rect x="583" y="341.6" width="5" height="4.6" fill="#cfccc8" stroke="#161412" stroke-width="1"/>
<ellipse cx="593.4" cy="344" rx="6.2" ry="6.7" fill="#cfccc8" stroke="#161412" stroke-width="1.9"/>
<line x1="369" y1="103" x2="429.2" y2="103" stroke="#161412" stroke-width="1.9" marker-end="url(#ah)"/>
<line x1="384.5" y1="166" x2="417" y2="133.5" stroke="#161412" stroke-width="1.9" marker-end="url(#ah)"/>
<line x1="384.5" y1="166" x2="418.5" y2="176.5" stroke="#161412" stroke-width="1.9" marker-end="url(#ah)"/>
<line x1="354" y1="287.3" x2="445.5" y2="287.3" stroke="#161412" stroke-width="1.9" marker-end="url(#ah)"/>
<line x1="384" y1="406" x2="441.5" y2="406" stroke="#161412" stroke-width="1.9" marker-end="url(#ah)"/>
<line x1="336" y1="604" x2="375" y2="637" stroke="#161412" stroke-width="1.9" marker-end="url(#ah)"/>
<line x1="316" y1="670" x2="355" y2="687.5" stroke="#161412" stroke-width="1.9" marker-end="url(#ah)"/>
<line x1="294" y1="755" x2="376.5" y2="755" stroke="#161412" stroke-width="1.9" marker-end="url(#ah)"/>
<line x1="311.5" y1="866.5" x2="429" y2="816.5" stroke="#161412" stroke-width="1.9" marker-end="url(#ah)"/>
<line x1="357" y1="934.5" x2="467" y2="901.5" stroke="#161412" stroke-width="1.9" marker-end="url(#ah)"/>
<line x1="442" y1="978" x2="461.8" y2="939.2" stroke="#161412" stroke-width="1.9" marker-end="url(#ah)"/>
<line x1="644.5" y1="147.5" x2="610" y2="130.8" stroke="#161412" stroke-width="1.9" marker-end="url(#ah)"/>
<line x1="644.5" y1="147.5" x2="605.6" y2="169.8" stroke="#161412" stroke-width="1.9" marker-end="url(#ah)"/>
<line x1="653.5" y1="267.5" x2="578.8" y2="220.3" stroke="#161412" stroke-width="1.9" marker-end="url(#ah)"/>
<line x1="652" y1="482" x2="567.2" y2="667.4" stroke="#161412" stroke-width="1.9" marker-end="url(#ah)"/>
<line x1="664" y1="610.6" x2="646.4" y2="638.2" stroke="#161412" stroke-width="1.9" marker-end="url(#ah)"/>
<line x1="692.5" y1="678.6" x2="657.2" y2="699.8" stroke="#161412" stroke-width="1.9" marker-end="url(#ah)"/>
<polyline points="726.2,900 726.2,880 689.8,853.4" fill="none" stroke="#161412" stroke-width="1.9" marker-end="url(#ah)"/>
<line x1="569.6" y1="968" x2="563.2" y2="936.8" stroke="#161412" stroke-width="1.9" marker-end="url(#ah)"/>
<g transform="translate(335.6,754.9) rotate(0)"><rect x="-4.8" y="-2.7" width="9.6" height="5.4" rx="2.7" fill="#d6d3ce" stroke="#161412" stroke-width="1.8"/><rect x="-2.8" y="-1.3" width="5.6" height="1.3" rx="0.6" fill="#f0eeeb"/></g>
<line x1="503" y1="619.4" x2="522" y2="619.4" stroke="#161412" stroke-width="1.9"/>
<path d="M494.4,619.4 L507.4,613.6 L505.2,619.4 L507.4,625.2 Z" fill="#161412"/>
<path d="M530.8,619.4 L517.8,613.6 L520,619.4 L517.8,625.2 Z" fill="#161412"/>
<g opacity="0.995">
<text x="287.8" y="44.4" font-size="31.6" font-weight="bold" textLength="159.4" lengthAdjust="spacingAndGlyphs" fill="#161412" stroke="#161412" stroke-width="1.0" stroke-linejoin="round">FRONT VIEW</text>
<text x="583.8" y="44.4" font-size="31.6" font-weight="bold" textLength="143.9" lengthAdjust="spacingAndGlyphs" fill="#161412" stroke="#161412" stroke-width="1.0" stroke-linejoin="round">BACK VIEW</text>
<text x="289.2" y="110.0" font-size="21.8" font-weight="bold" textLength="75.5" lengthAdjust="spacingAndGlyphs" fill="#161412" stroke="#161412" stroke-width="0.7" stroke-linejoin="round">Peghead</text>
<text x="273.2" y="173.5" font-size="21.8" font-weight="bold" textLength="107.9" lengthAdjust="spacingAndGlyphs" fill="#161412" stroke="#161412" stroke-width="0.7" stroke-linejoin="round">Tuning Pegs</text>
<text x="304.9" y="294.0" font-size="21.8" font-weight="bold" textLength="44.0" lengthAdjust="spacingAndGlyphs" fill="#161412" stroke="#161412" stroke-width="0.7" stroke-linejoin="round">Neck</text>
<text x="274.7" y="413.3" font-size="21.8" font-weight="bold" textLength="104.6" lengthAdjust="spacingAndGlyphs" fill="#161412" stroke="#161412" stroke-width="0.7" stroke-linejoin="round">Fingerboard</text>
<text x="282.2" y="434.9" font-size="20.0" font-weight="normal" textLength="89.5" lengthAdjust="spacingAndGlyphs" fill="#161412" stroke="#161412" stroke-width="0.45" stroke-linejoin="round">(with Frets)</text>
<text x="249.7" y="610.3" font-size="21.8" font-weight="bold" textLength="81.4" lengthAdjust="spacingAndGlyphs" fill="#161412" stroke="#161412" stroke-width="0.7" stroke-linejoin="round">Rim (Pot)</text>
<text x="245.8" y="664.0" font-size="21.8" font-weight="bold" textLength="67.7" lengthAdjust="spacingAndGlyphs" fill="#161412" stroke="#161412" stroke-width="0.7" stroke-linejoin="round">Tension</text>
<text x="256.5" y="687.0" font-size="21.8" font-weight="bold" textLength="45.8" lengthAdjust="spacingAndGlyphs" fill="#161412" stroke="#161412" stroke-width="0.7" stroke-linejoin="round">Hoop</text>
<text x="244.8" y="761.6" font-size="21.8" font-weight="bold" textLength="44.3" lengthAdjust="spacingAndGlyphs" fill="#161412" stroke="#161412" stroke-width="0.7" stroke-linejoin="round">Head</text>
<text x="244.1" y="783.9" font-size="20.0" font-weight="normal" textLength="46.1" lengthAdjust="spacingAndGlyphs" fill="#161412" stroke="#161412" stroke-width="0.45" stroke-linejoin="round">(Skin)</text>
<text x="251.0" y="874.8" font-size="21.8" font-weight="bold" textLength="57.6" lengthAdjust="spacingAndGlyphs" fill="#161412" stroke="#161412" stroke-width="0.7" stroke-linejoin="round">Bridge</text>
<text x="274.2" y="942.9" font-size="21.8" font-weight="bold" textLength="78.5" lengthAdjust="spacingAndGlyphs" fill="#161412" stroke="#161412" stroke-width="0.7" stroke-linejoin="round">Tailpiece</text>
<text x="375.7" y="988.3" font-size="21.8" font-weight="bold" textLength="62.6" lengthAdjust="spacingAndGlyphs" fill="#161412" stroke="#161412" stroke-width="0.7" stroke-linejoin="round">Strings</text>
<text x="648.6" y="154.4" font-size="21.8" font-weight="bold" textLength="107.4" lengthAdjust="spacingAndGlyphs" fill="#161412" stroke="#161412" stroke-width="0.7" stroke-linejoin="round">Tuning Pegs</text>
<text x="677.2" y="175.5" font-size="20.0" font-weight="normal" textLength="50.5" lengthAdjust="spacingAndGlyphs" fill="#161412" stroke="#161412" stroke-width="0.45" stroke-linejoin="round">(Back)</text>
<text x="658.4" y="278.3" font-size="21.8" font-weight="bold" textLength="88.1" lengthAdjust="spacingAndGlyphs" fill="#161412" stroke="#161412" stroke-width="0.7" stroke-linejoin="round">Neck Heel</text>
<text x="656.8" y="489.0" font-size="21.8" font-weight="bold" textLength="102.7" lengthAdjust="spacingAndGlyphs" fill="#161412" stroke="#161412" stroke-width="0.7" stroke-linejoin="round">Coordinator</text>
<text x="679.6" y="511.8" font-size="21.8" font-weight="bold" textLength="56.5" lengthAdjust="spacingAndGlyphs" fill="#161412" stroke="#161412" stroke-width="0.7" stroke-linejoin="round">Rod(s)</text>
<text x="682.6" y="585.7" font-size="21.8" font-weight="bold" textLength="84.0" lengthAdjust="spacingAndGlyphs" fill="#161412" stroke="#161412" stroke-width="0.7" stroke-linejoin="round">Open Rim</text>
<text x="665.4" y="607.2" font-size="20.0" font-weight="normal" textLength="118.8" lengthAdjust="spacingAndGlyphs" fill="#161412" stroke="#161412" stroke-width="0.45" stroke-linejoin="round">(No Resonator)</text>
<text x="695.8" y="686.3" font-size="21.8" font-weight="bold" textLength="85.4" lengthAdjust="spacingAndGlyphs" fill="#161412" stroke="#161412" stroke-width="0.7" stroke-linejoin="round">Tone Ring</text>
<text x="702.3" y="708.3" font-size="20.0" font-weight="normal" textLength="71.6" lengthAdjust="spacingAndGlyphs" fill="#161412" stroke="#161412" stroke-width="0.45" stroke-linejoin="round">(Internal)</text>
<text x="663.6" y="919.4" font-size="21.8" font-weight="bold" textLength="121.1" lengthAdjust="spacingAndGlyphs" fill="#161412" stroke="#161412" stroke-width="0.7" stroke-linejoin="round">Rim Hardware</text>
<text x="665.2" y="941.5" font-size="20.0" font-weight="normal" textLength="118.5" lengthAdjust="spacingAndGlyphs" fill="#161412" stroke="#161412" stroke-width="0.45" stroke-linejoin="round">(Hooks &amp; Nuts)</text>
<text x="575.6" y="986.6" font-size="21.8" font-weight="bold" textLength="143.7" lengthAdjust="spacingAndGlyphs" fill="#161412" stroke="#161412" stroke-width="0.7" stroke-linejoin="round">Tailpiece Anchor</text>
</g>
<path d="M753,966 Q755,979 768,982 Q755,985 753,998 Q751,985 738,982 Q751,979 753,966 Z" fill="#fbf7ec" opacity="0.9"/>
</svg>
</body>
</html>
